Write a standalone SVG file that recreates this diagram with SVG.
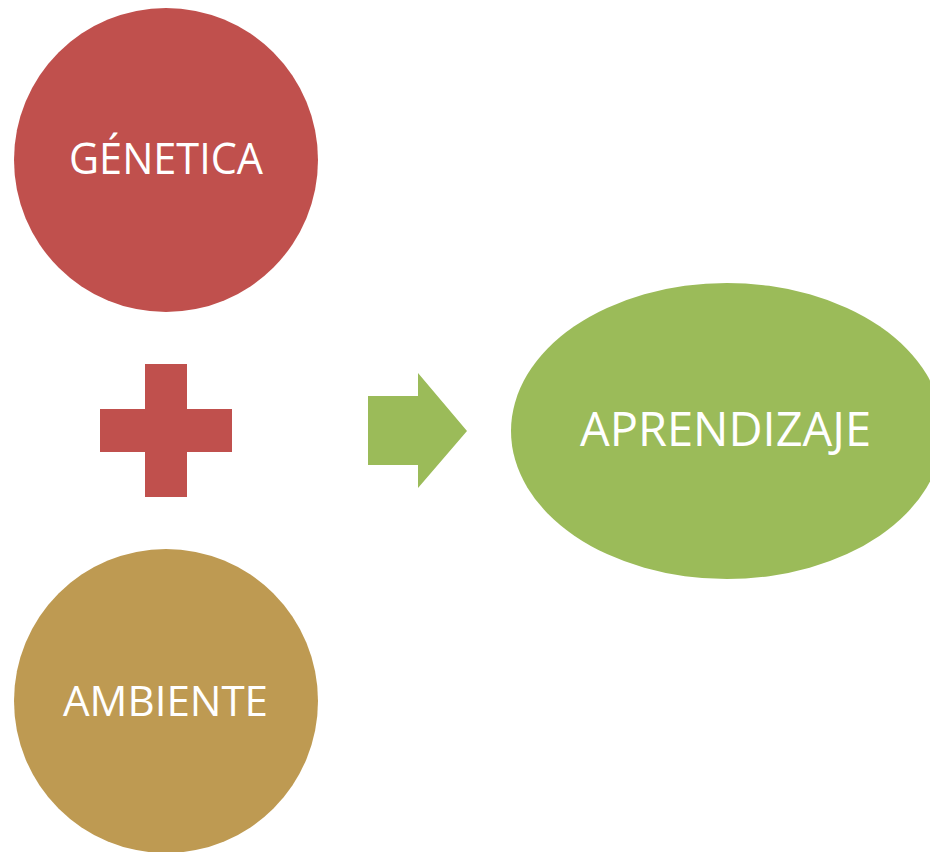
<svg xmlns="http://www.w3.org/2000/svg" width="930" height="852" viewBox="0 0 930 852">
<style>
.lbl{font-family:"Open Sans","Liberation Sans",sans-serif;fill:#ffffff;}
</style>
<rect width="930" height="852" fill="#ffffff"/>
<g id="genetica">
<circle cx="166" cy="160" r="152" fill="#C0504D"/>
<text class="lbl" x="69" y="174" font-size="43" textLength="194" lengthAdjust="spacingAndGlyphs">GÉNETICA</text>
</g>
<g id="plus">
<path d="M145 364 H187 V409 H232 V452 H187 V497 H145 V452 H100 V409 H145 Z" fill="#C0504D"/>
</g>
<g id="connectors">
<path d="M368 396 H418 V373 L467 431 L418 488 V465 H368 Z" fill="#9BBB59"/>
</g>
<g id="aprendizaje">
<ellipse cx="727" cy="431" rx="216" ry="148" fill="#9BBB59"/>
<text class="lbl" x="580" y="446" font-size="47" textLength="291" lengthAdjust="spacingAndGlyphs">APRENDIZAJE</text>
</g>
<g id="ambiente">
<circle cx="166" cy="701" r="152" fill="#BE9A52"/>
<text class="lbl" x="63" y="716" font-size="42" textLength="205" lengthAdjust="spacingAndGlyphs">AMBIENTE</text>
</g>
</svg>
